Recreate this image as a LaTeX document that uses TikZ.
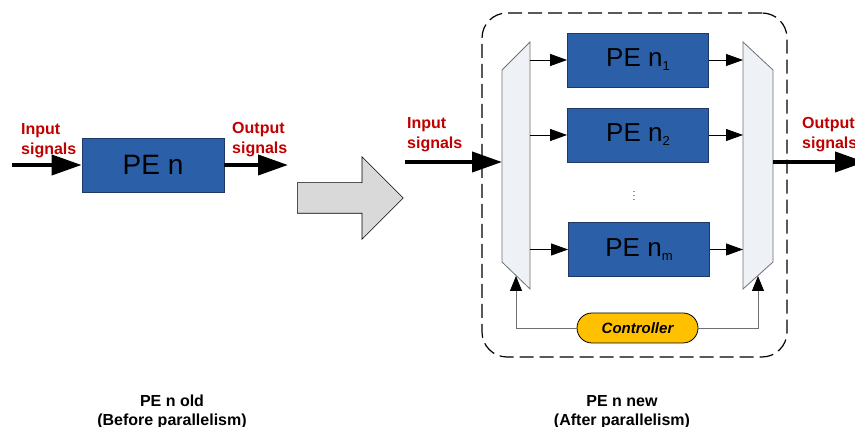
\documentclass[tikz,border=0pt]{standalone}
\usepackage{fontspec}
\setmainfont{Liberation Sans}
\usepackage{tikz}
\usetikzlibrary{arrows.meta,shapes.arrows}
\definecolor{peblue}{HTML}{2B5FA8}
\definecolor{peedge}{HTML}{1F3864}
\definecolor{sigred}{HTML}{C00000}
\definecolor{muxfill}{HTML}{EEF1F6}
\definecolor{muxedge}{HTML}{707070}
\definecolor{ctrlfill}{HTML}{FFC000}
\definecolor{shiftgray}{HTML}{D9D9D9}
\tikzset{
  pe/.style={draw=peedge, fill=peblue, line width=0.8pt, minimum width=141pt, minimum height=54pt, inner sep=0pt, font=\fontsize{26}{26}\selectfont},
  sig/.style={text=sigred, font=\fontsize{16}{20}\selectfont\bfseries, align=left, inner sep=0pt, anchor=north west},
  captxt/.style={font=\fontsize{16}{19}\selectfont\bfseries, align=center, inner sep=0pt, anchor=north},
  mux/.style={draw=muxedge, fill=muxfill, line width=0.8pt},
  ctrl/.style={draw=black, fill=ctrlfill, line width=0.8pt, rounded corners=15pt, minimum width=121pt, minimum height=30pt, inner sep=0pt, font=\fontsize{15}{15}\selectfont\bfseries\itshape},
  fatarr/.style={-{Triangle[length=30pt,width=20pt]}, line width=4pt},
  thinarr/.style={-{Triangle[length=17pt,width=12pt]}, line width=0.8pt},
  ctlarr/.style={-{Triangle[length=15pt,width=12pt,color=black]}, draw=muxedge, line width=0.8pt},
  dashframe/.style={draw, dash pattern=on 14pt off 6pt, line width=1.2pt, rounded corners=25pt},
}
\newcommand{\pesub}[1]{PE n\raisebox{-4pt}{\fontsize{13}{13}\selectfont #1}}

\begin{document}
\begin{tikzpicture}[x=1pt,y=-1pt]
  \useasboundingbox (0,0) rectangle (855,427);
  % before parallelism
  \node[pe, minimum width=142pt, font=\fontsize{28}{28}\selectfont] (old) at (153,165) {PE n};
  \coordinate (old-in) at (12,165);
  \coordinate (old-out) at (288,165);
  \draw[fatarr] (old-in) -- (old);
  \draw[fatarr] (old) -- (old-out);
  \node[sig] (old-inlbl) at (21,123) {Input\\signals};
  \node[sig] (old-outlbl) at (232,122) {Output\\signals};
  \node[captxt] (old-cap) at (172,395) {PE n old\\(Before parallelism)};

  \node[single arrow, draw=black, fill=shiftgray, line width=0.6pt, minimum height=106pt, inner sep=15pt, single arrow head extend=26pt, anchor=tail] (shift) at (297,198) {};

  % after parallelism
  \node[dashframe, minimum width=305pt, minimum height=344pt] (grp) at (634.5,185) {};
  \coordinate (ml-nw) at (502,70);
  \coordinate (ml-ne) at (530,42);
  \coordinate (ml-se) at (530,289);
  \coordinate (ml-sw) at (502,262);
  \coordinate (mr-nw) at (743,42);
  \coordinate (mr-ne) at (773,70);
  \coordinate (mr-se) at (773,262);
  \coordinate (mr-sw) at (743,289);
  \draw[mux] (ml-nw) -- (ml-ne) -- (ml-se) -- (ml-sw) -- cycle;
  \draw[mux] (mr-nw) -- (mr-ne) -- (mr-se) -- (mr-sw) -- cycle;

  \node[pe] (pe1) at (638,60) {\pesub{1}};
  \node[pe] (pe2) at (638,135) {\pesub{2}};
  \node[pe] (pem) at (639,249.5) {\pesub{m}};
  \node[font=\fontsize{9}{9}\selectfont, inner sep=0pt] (dots) at (634,193) {$\vdots$};
  \foreach \p in {pe1,pe2,pem} {
    \draw[thinarr] (ml-ne |- \p.west) -- (\p.west);
    \draw[thinarr] (\p.east) -- (mr-nw |- \p.east);
  }

  \coordinate (new-in) at (405,162);
  \coordinate (ml-in) at (502,162);
  \coordinate (mr-out) at (773,162);
  \coordinate (new-out) at (865,162);
  \draw[fatarr] (new-in) -- (ml-in);
  \draw[fatarr] (mr-out) -- (new-out);
  \node[sig] (new-inlbl) at (407,117) {Input\\signals};
  \node[sig] (new-outlbl) at (802,117) {Output\\signals};

  \node[ctrl] (ctrl) at (637.5,328) {Controller};
  \coordinate (ml-ctl) at (516,276);
  \coordinate (mr-ctl) at (758,276);
  \draw[ctlarr] (ctrl.west) -| (ml-ctl);
  \draw[ctlarr] (ctrl.east) -| (mr-ctl);
  \node[captxt] (new-cap) at (622,395) {PE n new\\(After parallelism)};
\end{tikzpicture}
\end{document}
